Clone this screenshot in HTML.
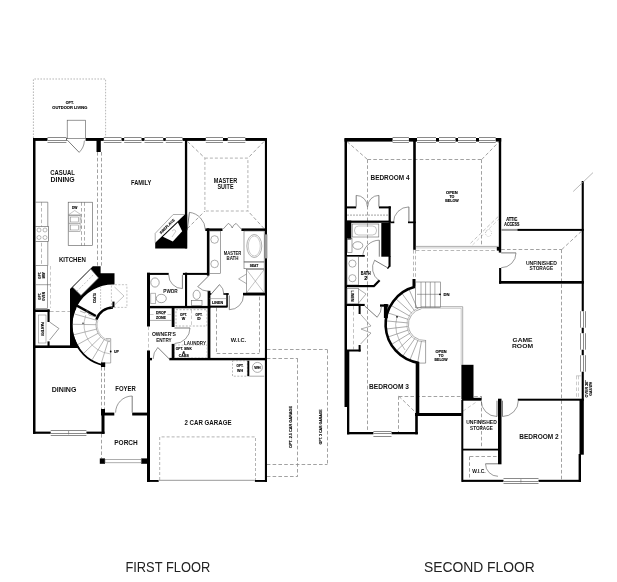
<!DOCTYPE html>
<html><head><meta charset="utf-8"><style>
html,body{margin:0;padding:0;background:#fff;}
svg{display:block;will-change:transform;}
text{font-family:"Liberation Sans",sans-serif;}
</style></head><body>
<svg width="617" height="582" viewBox="0 0 617 582">
<rect x="0" y="0" width="617" height="582" fill="#fff"/>
<line x1="97.50" y1="152.00" x2="97.50" y2="265.60" stroke="#8a8a8a" stroke-width="0.8" stroke-dasharray="3.6 2.2"/>
<line x1="101.50" y1="152.00" x2="101.50" y2="265.60" stroke="#8a8a8a" stroke-width="0.8" stroke-dasharray="3.6 2.2"/>
<line x1="187.50" y1="141.50" x2="204.90" y2="158.10" stroke="#8a8a8a" stroke-width="0.8" stroke-dasharray="3.6 2.2"/>
<line x1="264.00" y1="141.50" x2="247.90" y2="158.10" stroke="#8a8a8a" stroke-width="0.8" stroke-dasharray="3.6 2.2"/>
<line x1="187.50" y1="228.50" x2="204.90" y2="211.00" stroke="#8a8a8a" stroke-width="0.8" stroke-dasharray="3.6 2.2"/>
<line x1="264.00" y1="228.50" x2="247.90" y2="211.00" stroke="#8a8a8a" stroke-width="0.8" stroke-dasharray="3.6 2.2"/>
<line x1="41.50" y1="202.20" x2="41.50" y2="265.60" stroke="#888" stroke-width="0.6" stroke-dasharray="3.6 2.2"/>
<line x1="81.50" y1="202.20" x2="81.50" y2="245.50" stroke="#888" stroke-width="0.7" stroke-dasharray="3.6 2.2"/>
<line x1="84.50" y1="202.20" x2="84.50" y2="245.50" stroke="#888" stroke-width="0.7" stroke-dasharray="3.6 2.2"/>
<line x1="50.50" y1="266.00" x2="50.50" y2="308.00" stroke="#999" stroke-width="0.5" stroke-dasharray="3.6 2.2"/>
<line x1="50.00" y1="311.50" x2="70.00" y2="311.50" stroke="#888" stroke-width="0.6" stroke-dasharray="3.6 2.2"/>
<line x1="50.00" y1="346.50" x2="70.00" y2="346.50" stroke="#888" stroke-width="0.6" stroke-dasharray="3.6 2.2"/>
<line x1="101.50" y1="367.00" x2="101.50" y2="409.00" stroke="#8a8a8a" stroke-width="0.8" stroke-dasharray="3.6 2.2"/>
<line x1="104.50" y1="367.00" x2="104.50" y2="409.00" stroke="#8a8a8a" stroke-width="0.8" stroke-dasharray="3.6 2.2"/>
<line x1="101.50" y1="434.00" x2="101.50" y2="458.40" stroke="#8a8a8a" stroke-width="0.8" stroke-dasharray="3.6 2.2"/>
<line x1="148.50" y1="326.50" x2="148.50" y2="350.50" stroke="#aaa" stroke-width="0.7" stroke-dasharray="3.6 2.2"/>
<line x1="216.50" y1="307.70" x2="216.50" y2="353.40" stroke="#8a8a8a" stroke-width="0.8" stroke-dasharray="3.6 2.2"/>
<line x1="216.70" y1="353.50" x2="259.30" y2="353.50" stroke="#8a8a8a" stroke-width="0.8" stroke-dasharray="3.6 2.2"/>
<line x1="259.50" y1="296.70" x2="259.50" y2="353.40" stroke="#8a8a8a" stroke-width="0.8" stroke-dasharray="3.6 2.2"/>
<line x1="150.00" y1="314.50" x2="171.70" y2="314.50" stroke="#999" stroke-width="0.5" stroke-dasharray="3.6 2.2"/>
<line x1="191.50" y1="309.70" x2="191.50" y2="326.00" stroke="#999" stroke-width="0.5" stroke-dasharray="3.6 2.2"/>
<line x1="266.80" y1="349.50" x2="327.40" y2="349.50" stroke="#8a8a8a" stroke-width="0.8" stroke-dasharray="3.6 2.2"/>
<line x1="327.50" y1="349.70" x2="327.50" y2="464.40" stroke="#8a8a8a" stroke-width="0.8" stroke-dasharray="3.6 2.2"/>
<line x1="266.80" y1="464.50" x2="327.40" y2="464.50" stroke="#8a8a8a" stroke-width="0.8" stroke-dasharray="3.6 2.2"/>
<line x1="266.80" y1="358.50" x2="297.90" y2="358.50" stroke="#8a8a8a" stroke-width="0.8" stroke-dasharray="3.6 2.2"/>
<line x1="297.50" y1="358.80" x2="297.50" y2="476.10" stroke="#8a8a8a" stroke-width="0.8" stroke-dasharray="3.6 2.2"/>
<line x1="266.80" y1="476.50" x2="297.90" y2="476.50" stroke="#8a8a8a" stroke-width="0.8" stroke-dasharray="3.6 2.2"/>
<line x1="413.50" y1="250.00" x2="413.50" y2="279.00" stroke="#888" stroke-width="0.6" stroke-dasharray="3.6 2.2"/>
<line x1="415.50" y1="250.00" x2="415.50" y2="279.00" stroke="#888" stroke-width="0.6" stroke-dasharray="3.6 2.2"/>
<line x1="501.20" y1="249.50" x2="561.80" y2="249.50" stroke="#8a8a8a" stroke-width="0.8" stroke-dasharray="3.6 2.2"/>
<line x1="561.50" y1="249.50" x2="561.50" y2="479.80" stroke="#8a8a8a" stroke-width="0.8" stroke-dasharray="3.6 2.2"/>
<line x1="561.80" y1="249.50" x2="581.70" y2="231.00" stroke="#8a8a8a" stroke-width="0.8" stroke-dasharray="3.6 2.2"/>
<line x1="367.50" y1="159.50" x2="481.70" y2="159.50" stroke="#8a8a8a" stroke-width="0.8" stroke-dasharray="3.6 2.2"/>
<line x1="481.50" y1="159.50" x2="481.50" y2="246.00" stroke="#8a8a8a" stroke-width="0.8" stroke-dasharray="3.6 2.2"/>
<line x1="481.70" y1="159.50" x2="499.00" y2="141.80" stroke="#8a8a8a" stroke-width="0.8" stroke-dasharray="3.6 2.2"/>
<line x1="347.00" y1="141.60" x2="367.50" y2="159.50" stroke="#8a8a8a" stroke-width="0.8" stroke-dasharray="3.6 2.2"/>
<line x1="367.50" y1="159.50" x2="367.50" y2="432.00" stroke="#8a8a8a" stroke-width="0.8" stroke-dasharray="3.6 2.2"/>
<line x1="415.80" y1="250.50" x2="499.00" y2="250.50" stroke="#888" stroke-width="0.6" stroke-dasharray="3.6 2.2"/>
<line x1="470.50" y1="243.30" x2="498.30" y2="216.50" stroke="#999" stroke-width="0.6" stroke-dasharray="3.6 2.2"/>
<line x1="472.50" y1="245.00" x2="499.00" y2="219.00" stroke="#aaa" stroke-width="0.5" stroke-dasharray="3.6 2.2"/>
<line x1="353.50" y1="306.00" x2="353.50" y2="349.50" stroke="#999" stroke-width="0.6" stroke-dasharray="3.6 2.2"/>
<line x1="398.80" y1="396.50" x2="481.50" y2="396.50" stroke="#8a8a8a" stroke-width="0.8" stroke-dasharray="3.6 2.2"/>
<line x1="398.50" y1="396.20" x2="398.50" y2="432.00" stroke="#8a8a8a" stroke-width="0.8" stroke-dasharray="3.6 2.2"/>
<line x1="398.80" y1="396.20" x2="415.30" y2="412.10" stroke="#8a8a8a" stroke-width="0.8" stroke-dasharray="3.6 2.2"/>
<line x1="576.50" y1="375.80" x2="576.50" y2="399.00" stroke="#999" stroke-width="0.5" stroke-dasharray="3.6 2.2"/>
<line x1="578.50" y1="375.80" x2="578.50" y2="399.00" stroke="#999" stroke-width="0.5" stroke-dasharray="3.6 2.2"/>
<line x1="481.50" y1="396.20" x2="481.50" y2="447.40" stroke="#8a8a8a" stroke-width="0.8" stroke-dasharray="3.6 2.2"/>
<line x1="463.00" y1="411.10" x2="476.30" y2="402.00" stroke="#999" stroke-width="0.5" stroke-dasharray="3.6 2.2"/>
<line x1="469.50" y1="456.50" x2="469.50" y2="479.80" stroke="#8a8a8a" stroke-width="0.8" stroke-dasharray="3.6 2.2"/>
<line x1="469.80" y1="456.50" x2="497.60" y2="456.50" stroke="#8a8a8a" stroke-width="0.8" stroke-dasharray="3.6 2.2"/>
<path d="M70,348 L70,289 L92.8,266.2 L100.6,266.2 L100.6,273.2 L114.5,273.2 L114.5,284.53 A40.5,40.5 0 0 0 79.66,348 Z" fill="#000"/>
<polygon points="72.70,287.20 90.80,269.10 98.50,277.90 81.00,295.40" fill="#fff"/>
<path d="M72.7,287.2 L90.8,269.1 L98.5,277.9 L81,295.4 Z" fill="none" stroke="#666" stroke-width="0.6"/>
<line x1="76.85" y1="291.30" x2="94.65" y2="273.50" stroke="#888" stroke-width="0.5" stroke-dasharray="2 1.5"/>
<path d="M103.01,365.07 A41.30,41.30 0 0 1 75.57,307.55" fill="none" stroke="#000" stroke-width="1.8"/>
<line x1="76.90" y1="305.70" x2="95.90" y2="316.00" stroke="#000" stroke-width="2.5"/>
<path d="M96.36,319.59 A17.50,17.50 0 0 1 113.00,307.50" fill="none" stroke="#000" stroke-width="2.4"/>
<rect x="112.40" y="301.60" width="2.10" height="5.70" fill="#000"/>
<text x="94.90" y="299.36" font-size="3.8" text-anchor="middle" fill="#000" font-weight="bold" stroke="#000" stroke-width="0.12" textLength="10.00" lengthAdjust="spacingAndGlyphs" transform="rotate(-90 94.90 298.00)">COATS</text>
<line x1="100.60" y1="286.00" x2="100.60" y2="310.00" stroke="#999" stroke-width="0.5" stroke-dasharray="2 1"/>
<rect x="111.40" y="284.70" width="15.50" height="22.70" fill="none" stroke="#888" stroke-width="0.5" stroke-dasharray="2 1.5"/>
<path d="M114.5,287 L124,296 L114.5,305" fill="none" stroke="#888" stroke-width="0.5"/>
<path d="M110.05,341.74 A17.00,17.00 0 0 1 96.83,319.75" fill="none" stroke="#777" stroke-width="0.6"/>
<path d="M110.26,340.56 A15.80,15.80 0 0 1 97.97,320.12" fill="none" stroke="#999" stroke-width="0.5"/>
<line x1="108.03" y1="341.26" x2="101.19" y2="363.63" stroke="#777" stroke-width="0.55"/>
<line x1="104.24" y1="339.57" x2="92.19" y2="359.63" stroke="#777" stroke-width="0.55"/>
<line x1="100.77" y1="336.81" x2="83.94" y2="353.06" stroke="#777" stroke-width="0.55"/>
<line x1="98.13" y1="333.24" x2="77.67" y2="344.59" stroke="#777" stroke-width="0.55"/>
<line x1="96.50" y1="329.11" x2="73.80" y2="334.77" stroke="#777" stroke-width="0.55"/>
<line x1="96.00" y1="324.70" x2="72.61" y2="324.29" stroke="#777" stroke-width="0.55"/>
<line x1="96.66" y1="320.31" x2="74.17" y2="313.86" stroke="#777" stroke-width="0.55"/>
<path d="M109.97,353.84 A29.00,29.00 0 0 1 85.75,315.08" fill="none" stroke="#888" stroke-width="0.5"/>
<line x1="110.70" y1="338.60" x2="110.70" y2="363.00" stroke="#777" stroke-width="0.6"/>
<line x1="106.00" y1="338.60" x2="110.70" y2="338.60" stroke="#777" stroke-width="0.6"/>
<line x1="104.00" y1="363.00" x2="110.70" y2="363.00" stroke="#777" stroke-width="0.6"/>
<path d="M80,311 L85,313 L87,310 L89,315 L96,317" fill="none" stroke="#666" stroke-width="0.5"/>
<rect x="101.00" y="362.40" width="4.20" height="4.60" fill="#000"/>
<circle cx="110.7" cy="351.5" r="0.9" fill="#000"/>
<circle cx="83" cy="323.2" r="0.8" fill="#333"/>
<text x="116.50" y="352.86" font-size="3.8" text-anchor="middle" fill="#000" font-weight="bold" stroke="#000" stroke-width="0.12" textLength="5.00" lengthAdjust="spacingAndGlyphs">UP</text>
<path d="M33.4,138 L33.4,79 L105.6,79 L105.6,138" fill="none" stroke="#999" stroke-width="0.7" stroke-dasharray="1.6 1.4"/>
<text x="69.80" y="104.10" font-size="4.2" text-anchor="middle" fill="#000" font-weight="bold" stroke="#000" stroke-width="0.12" textLength="8.00" lengthAdjust="spacingAndGlyphs">OPT.</text>
<text x="69.80" y="109.00" font-size="4.2" text-anchor="middle" fill="#000" font-weight="bold" stroke="#000" stroke-width="0.12" textLength="35.00" lengthAdjust="spacingAndGlyphs">OUTDOOR LIVING</text>
<rect x="33.00" y="138.00" width="234.00" height="2.90" fill="#000"/>
<rect x="47.50" y="137.00" width="18.90" height="6.00" fill="#fff"/>
<line x1="47.50" y1="137.50" x2="66.40" y2="137.50" stroke="#8a8a8a" stroke-width="1"/>
<line x1="47.50" y1="140.50" x2="66.40" y2="140.50" stroke="#8a8a8a" stroke-width="1"/>
<line x1="47.50" y1="142.50" x2="66.40" y2="142.50" stroke="#8a8a8a" stroke-width="1"/>
<rect x="67.00" y="137.50" width="18.60" height="4.50" fill="#fff"/>
<rect x="67.20" y="120.20" width="18.40" height="18.50" fill="none" stroke="#555" stroke-width="0.6"/>
<line x1="67.20" y1="140.00" x2="79.15" y2="152.37" stroke="#444" stroke-width="0.7"/>
<path d="M79.15,152.37 A17.20,17.20 0 0 0 84.39,140.60" fill="none" stroke="#555" stroke-width="0.6"/>
<rect x="103.80" y="137.00" width="17.70" height="6.00" fill="#fff"/>
<line x1="103.80" y1="137.50" x2="121.50" y2="137.50" stroke="#8a8a8a" stroke-width="1"/>
<line x1="103.80" y1="140.50" x2="121.50" y2="140.50" stroke="#8a8a8a" stroke-width="1"/>
<line x1="103.80" y1="142.50" x2="121.50" y2="142.50" stroke="#8a8a8a" stroke-width="1"/>
<rect x="124.20" y="137.00" width="17.30" height="6.00" fill="#fff"/>
<line x1="124.20" y1="137.50" x2="141.50" y2="137.50" stroke="#8a8a8a" stroke-width="1"/>
<line x1="124.20" y1="140.50" x2="141.50" y2="140.50" stroke="#8a8a8a" stroke-width="1"/>
<line x1="124.20" y1="142.50" x2="141.50" y2="142.50" stroke="#8a8a8a" stroke-width="1"/>
<rect x="144.50" y="137.00" width="18.70" height="6.00" fill="#fff"/>
<line x1="144.50" y1="137.50" x2="163.20" y2="137.50" stroke="#8a8a8a" stroke-width="1"/>
<line x1="144.50" y1="140.50" x2="163.20" y2="140.50" stroke="#8a8a8a" stroke-width="1"/>
<line x1="144.50" y1="142.50" x2="163.20" y2="142.50" stroke="#8a8a8a" stroke-width="1"/>
<rect x="165.80" y="137.00" width="16.70" height="6.00" fill="#fff"/>
<line x1="165.80" y1="137.50" x2="182.50" y2="137.50" stroke="#8a8a8a" stroke-width="1"/>
<line x1="165.80" y1="140.50" x2="182.50" y2="140.50" stroke="#8a8a8a" stroke-width="1"/>
<line x1="165.80" y1="142.50" x2="182.50" y2="142.50" stroke="#8a8a8a" stroke-width="1"/>
<rect x="205.80" y="137.00" width="17.20" height="6.00" fill="#fff"/>
<line x1="205.80" y1="137.50" x2="223.00" y2="137.50" stroke="#8a8a8a" stroke-width="1"/>
<line x1="205.80" y1="140.50" x2="223.00" y2="140.50" stroke="#8a8a8a" stroke-width="1"/>
<line x1="205.80" y1="142.50" x2="223.00" y2="142.50" stroke="#8a8a8a" stroke-width="1"/>
<rect x="227.80" y="137.00" width="17.50" height="6.00" fill="#fff"/>
<line x1="227.80" y1="137.50" x2="245.30" y2="137.50" stroke="#8a8a8a" stroke-width="1"/>
<line x1="227.80" y1="140.50" x2="245.30" y2="140.50" stroke="#8a8a8a" stroke-width="1"/>
<line x1="227.80" y1="142.50" x2="245.30" y2="142.50" stroke="#8a8a8a" stroke-width="1"/>
<rect x="96.50" y="138.00" width="4.30" height="14.00" fill="#000"/>
<rect x="33.00" y="138.00" width="2.50" height="295.80" fill="#000"/>
<rect x="184.90" y="138.00" width="2.30" height="110.40" fill="#000"/>
<rect x="264.90" y="138.00" width="2.10" height="343.90" fill="#000"/>
<rect x="264.20" y="234.40" width="3.20" height="24.00" fill="#9a9a9a"/>
<rect x="204.90" y="158.10" width="43.00" height="52.90" fill="none" stroke="#999" stroke-width="0.75" stroke-dasharray="3 2"/>
<text x="141.20" y="185.42" font-size="7.6" text-anchor="middle" fill="#111" font-weight="bold" textLength="20.30" lengthAdjust="spacingAndGlyphs">FAMILY</text>
<text x="225.50" y="182.93" font-size="6.8" text-anchor="middle" fill="#111" font-weight="bold" textLength="23.50" lengthAdjust="spacingAndGlyphs">MASTER</text>
<text x="225.50" y="188.63" font-size="6.8" text-anchor="middle" fill="#111" font-weight="bold" textLength="16.00" lengthAdjust="spacingAndGlyphs">SUITE</text>
<text x="62.60" y="174.93" font-size="6.8" text-anchor="middle" fill="#111" font-weight="bold" textLength="24.70" lengthAdjust="spacingAndGlyphs">CASUAL</text>
<text x="62.60" y="181.83" font-size="6.8" text-anchor="middle" fill="#111" font-weight="bold" textLength="24.20" lengthAdjust="spacingAndGlyphs">DINING</text>
<polygon points="155.20,242.80 184.80,214.50 187.10,214.50 187.10,248.40 155.20,248.40" fill="#000"/>
<polygon points="162.90,236.80 177.90,222.60 182.20,231.20 172.80,241.50" fill="#fff"/>
<path d="M155.2,242.8 L155.2,233.4 L173.2,214.5 L184.8,214.5" fill="none" stroke="#777" stroke-width="0.6"/>
<text x="167.20" y="227.59" font-size="3.6" text-anchor="middle" fill="#000" font-weight="bold" stroke="#000" stroke-width="0.12" textLength="19.70" lengthAdjust="spacingAndGlyphs" transform="rotate(-45 167.20 226.30)">FIREPLACE</text>
<path d="M172,231 q2,-3 4,0 q-2,3 -4,6" fill="none" stroke="#999" stroke-width="0.5"/>
<line x1="35.50" y1="202.20" x2="47.80" y2="202.20" stroke="#555" stroke-width="0.6"/>
<line x1="47.80" y1="202.20" x2="47.80" y2="265.60" stroke="#555" stroke-width="0.6"/>
<rect x="35.50" y="226.50" width="13.10" height="14.80" fill="#fff" stroke="#555" stroke-width="0.6"/>
<circle cx="39" cy="230" r="2" fill="none" stroke="#777" stroke-width="0.5"/>
<circle cx="45" cy="230" r="2" fill="none" stroke="#777" stroke-width="0.5"/>
<circle cx="39" cy="237.5" r="2" fill="none" stroke="#777" stroke-width="0.5"/>
<circle cx="45" cy="237.5" r="2" fill="none" stroke="#777" stroke-width="0.5"/>
<rect x="68.20" y="202.20" width="24.30" height="43.30" fill="none" stroke="#555" stroke-width="0.6"/>
<line x1="68.20" y1="215.00" x2="81.40" y2="215.00" stroke="#666" stroke-width="0.6"/>
<path d="M68.5,214.8 L74.7,210.5 L81.2,214.8" fill="none" stroke="#888" stroke-width="0.5"/>
<text x="74.70" y="209.43" font-size="4" text-anchor="middle" fill="#000" font-weight="bold" stroke="#000" stroke-width="0.12" textLength="5.50" lengthAdjust="spacingAndGlyphs">DW</text>
<rect x="68.90" y="215.40" width="11.20" height="16.10" fill="none" stroke="#888" stroke-width="0.6"/>
<line x1="68.90" y1="223.40" x2="80.10" y2="223.40" stroke="#777" stroke-width="0.6"/>
<rect x="70.70" y="217.00" width="7.80" height="5.00" fill="none" stroke="#777" stroke-width="0.5"/>
<rect x="70.70" y="225.00" width="7.80" height="5.00" fill="none" stroke="#777" stroke-width="0.5"/>
<line x1="79.90" y1="219.00" x2="82.00" y2="219.00" stroke="#777" stroke-width="0.5"/>
<line x1="79.90" y1="227.00" x2="82.00" y2="227.00" stroke="#777" stroke-width="0.5"/>
<text x="72.40" y="261.83" font-size="6.8" text-anchor="middle" fill="#111" font-weight="bold" textLength="27.00" lengthAdjust="spacingAndGlyphs">KITCHEN</text>
<rect x="35.50" y="265.60" width="12.00" height="42.90" fill="none" stroke="#666" stroke-width="0.6"/>
<line x1="35.50" y1="284.70" x2="50.60" y2="284.70" stroke="#666" stroke-width="0.6"/>
<text x="39.80" y="276.86" font-size="3.8" text-anchor="middle" fill="#000" font-weight="bold" stroke="#000" stroke-width="0.12" textLength="7.00" lengthAdjust="spacingAndGlyphs" transform="rotate(-90 39.80 275.50)">OPT.</text>
<text x="44.00" y="276.86" font-size="3.8" text-anchor="middle" fill="#000" font-weight="bold" stroke="#000" stroke-width="0.12" textLength="6.00" lengthAdjust="spacingAndGlyphs" transform="rotate(-90 44.00 275.50)">MW</text>
<text x="39.80" y="297.86" font-size="3.8" text-anchor="middle" fill="#000" font-weight="bold" stroke="#000" stroke-width="0.12" textLength="7.00" lengthAdjust="spacingAndGlyphs" transform="rotate(-90 39.80 296.50)">OPT.</text>
<text x="44.00" y="297.86" font-size="3.8" text-anchor="middle" fill="#000" font-weight="bold" stroke="#000" stroke-width="0.12" textLength="9.00" lengthAdjust="spacingAndGlyphs" transform="rotate(-90 44.00 296.50)">OVEN</text>
<rect x="33.00" y="309.50" width="16.60" height="2.50" fill="#000"/>
<rect x="47.50" y="309.50" width="2.10" height="12.50" fill="#000"/>
<rect x="47.50" y="341.40" width="2.10" height="6.60" fill="#000"/>
<rect x="33.00" y="345.40" width="37.00" height="2.60" fill="#000"/>
<path d="M49.6,322 L58.9,328.5 L49.6,340" fill="none" stroke="#555" stroke-width="0.6"/>
<rect x="38.50" y="315.00" width="7.50" height="28.00" fill="none" stroke="#777" stroke-width="0.5"/>
<text x="42.30" y="330.22" font-size="3.4" text-anchor="middle" fill="#000" font-weight="bold" stroke="#000" stroke-width="0.12" textLength="14.00" lengthAdjust="spacingAndGlyphs" transform="rotate(90 42.30 329.00)">PANTRY</text>
<rect x="101.00" y="409.00" width="4.00" height="4.00" fill="#000"/>
<rect x="101.50" y="413.00" width="3.00" height="20.80" fill="#000"/>
<rect x="33.00" y="431.60" width="71.50" height="2.20" fill="#000"/>
<rect x="50.70" y="430.00" width="35.70" height="6.00" fill="#fff"/>
<line x1="50.70" y1="430.50" x2="86.40" y2="430.50" stroke="#8a8a8a" stroke-width="1"/>
<line x1="50.70" y1="433.50" x2="86.40" y2="433.50" stroke="#8a8a8a" stroke-width="1"/>
<line x1="50.70" y1="435.50" x2="86.40" y2="435.50" stroke="#8a8a8a" stroke-width="1"/>
<line x1="68.60" y1="431.00" x2="68.60" y2="434.40" stroke="#666" stroke-width="0.6"/>
<rect x="101.00" y="412.60" width="13.30" height="2.90" fill="#000"/>
<rect x="132.20" y="412.60" width="17.80" height="2.90" fill="#000"/>
<line x1="132.20" y1="412.60" x2="132.20" y2="396.00" stroke="#444" stroke-width="0.7"/>
<path d="M132.20,396.00 A16.60,16.60 0 0 0 115.60,412.60" fill="none" stroke="#555" stroke-width="0.6"/>
<rect x="99.80" y="458.40" width="5.20" height="5.40" fill="#000"/>
<rect x="141.20" y="458.40" width="7.10" height="5.40" fill="#000"/>
<rect x="105.00" y="459.60" width="36.20" height="3.20" fill="none" stroke="#777" stroke-width="0.6"/>
<text x="64.10" y="391.53" font-size="6.8" text-anchor="middle" fill="#111" font-weight="bold" textLength="24.60" lengthAdjust="spacingAndGlyphs">DINING</text>
<text x="125.50" y="390.93" font-size="6.8" text-anchor="middle" fill="#111" font-weight="bold" textLength="20.50" lengthAdjust="spacingAndGlyphs">FOYER</text>
<text x="126.00" y="445.13" font-size="6.8" text-anchor="middle" fill="#111" font-weight="bold" textLength="23.50" lengthAdjust="spacingAndGlyphs">PORCH</text>
<rect x="147.00" y="272.70" width="3.00" height="53.80" fill="#000"/>
<rect x="147.00" y="350.50" width="3.00" height="131.40" fill="#000"/>
<rect x="147.00" y="272.90" width="21.70" height="2.00" fill="#000"/>
<rect x="182.90" y="272.90" width="26.40" height="2.00" fill="#000"/>
<line x1="182.40" y1="274.90" x2="182.40" y2="288.60" stroke="#444" stroke-width="0.7"/>
<path d="M182.40,288.60 A13.70,13.70 0 0 1 168.70,274.90" fill="none" stroke="#555" stroke-width="0.6"/>
<rect x="185.00" y="272.70" width="2.10" height="34.40" fill="#000"/>
<rect x="147.00" y="305.90" width="63.40" height="2.40" fill="#000"/>
<ellipse cx="155" cy="282.5" rx="4.2" ry="4.6" fill="none" stroke="#666" stroke-width="0.6"/>
<ellipse cx="161.3" cy="298.5" rx="5" ry="4.2" fill="none" stroke="#666" stroke-width="0.6"/>
<rect x="150.80" y="293.20" width="4.70" height="10.50" fill="none" stroke="#888" stroke-width="0.6"/>
<text x="170.50" y="292.90" font-size="5.6" text-anchor="middle" fill="#111" font-weight="bold" textLength="14.30" lengthAdjust="spacingAndGlyphs">PWDR</text>
<ellipse cx="196.7" cy="294.8" rx="3.6" ry="4.6" fill="none" stroke="#666" stroke-width="0.6"/>
<rect x="191.50" y="300.50" width="10.50" height="5.00" fill="none" stroke="#666" stroke-width="0.6"/>
<rect x="206.90" y="228.40" width="2.40" height="47.30" fill="#000"/>
<rect x="205.30" y="228.40" width="17.20" height="2.60" fill="#000"/>
<rect x="241.40" y="228.40" width="25.40" height="2.60" fill="#000"/>
<path d="M223.2,229 L228.3,223.4 Q231.5,225 232.2,228 M241.2,229 L236.1,223.4 Q232.9,225 232.2,228" fill="none" stroke="#555" stroke-width="0.6"/>
<line x1="187.20" y1="230.40" x2="189.42" y2="212.34" stroke="#444" stroke-width="0.7"/>
<path d="M189.42,212.34 A18.20,18.20 0 0 1 205.39,229.76" fill="none" stroke="#555" stroke-width="0.6"/>
<rect x="209.30" y="231.00" width="11.10" height="42.30" fill="none" stroke="#666" stroke-width="0.6"/>
<circle cx="214.6" cy="239.5" r="3.8" fill="none" stroke="#777" stroke-width="0.6"/>
<circle cx="214.6" cy="263.9" r="3.8" fill="none" stroke="#777" stroke-width="0.6"/>
<text x="232.50" y="255.23" font-size="5.4" text-anchor="middle" fill="#111" font-weight="bold" textLength="17.50" lengthAdjust="spacingAndGlyphs">MASTER</text>
<text x="232.50" y="260.33" font-size="5.4" text-anchor="middle" fill="#111" font-weight="bold" textLength="12.00" lengthAdjust="spacingAndGlyphs">BATH</text>
<rect x="244.00" y="231.00" width="20.20" height="30.90" fill="none" stroke="#666" stroke-width="0.6"/>
<ellipse cx="254.3" cy="246" rx="7.5" ry="11.5" fill="none" stroke="#777" stroke-width="0.6"/>
<ellipse cx="254.3" cy="246" rx="6" ry="10" fill="none" stroke="#999" stroke-width="0.5"/>
<rect x="244.00" y="262.00" width="20.20" height="6.70" fill="none" stroke="#666" stroke-width="0.6"/>
<text x="254.00" y="266.69" font-size="3.6" text-anchor="middle" fill="#000" font-weight="bold" stroke="#000" stroke-width="0.12" textLength="8.50" lengthAdjust="spacingAndGlyphs">SEAT</text>
<rect x="246.50" y="269.60" width="17.70" height="23.20" fill="none" stroke="#666" stroke-width="0.6"/>
<line x1="246.50" y1="269.60" x2="264.20" y2="292.80" stroke="#888" stroke-width="0.5"/>
<line x1="264.20" y1="269.60" x2="246.50" y2="292.80" stroke="#888" stroke-width="0.5"/>
<path d="M246.5,274 L238.6,278.9 L246.5,283.7" fill="none" stroke="#777" stroke-width="0.6"/>
<rect x="243.00" y="292.80" width="23.80" height="2.70" fill="#000"/>
<rect x="207.60" y="290.80" width="2.80" height="67.80" fill="#000"/>
<line x1="208.80" y1="275.70" x2="197.77" y2="286.73" stroke="#444" stroke-width="0.7"/>
<path d="M197.77,286.73 A15.60,15.60 0 0 0 208.80,291.30" fill="none" stroke="#555" stroke-width="0.6"/>
<rect x="209.30" y="293.20" width="2.00" height="1.60" fill="#000"/>
<rect x="223.40" y="293.20" width="5.40" height="1.60" fill="#000"/>
<rect x="226.30" y="293.20" width="1.50" height="13.60" fill="#000"/>
<line x1="211.30" y1="294.00" x2="219.50" y2="284.57" stroke="#444" stroke-width="0.7"/>
<path d="M219.50,284.57 A12.50,12.50 0 0 1 223.80,294.00" fill="none" stroke="#555" stroke-width="0.6"/>
<line x1="209.30" y1="298.60" x2="226.30" y2="298.60" stroke="#777" stroke-width="0.5"/>
<text x="217.60" y="303.86" font-size="3.8" text-anchor="middle" fill="#000" font-weight="bold" stroke="#000" stroke-width="0.12" textLength="11.20" lengthAdjust="spacingAndGlyphs">LINEN</text>
<rect x="209.30" y="305.60" width="18.20" height="2.10" fill="#000"/>
<line x1="229.30" y1="295.50" x2="229.30" y2="309.70" stroke="#444" stroke-width="0.7"/>
<path d="M229.30,309.70 A14.20,14.20 0 0 0 243.50,295.50" fill="none" stroke="#555" stroke-width="0.6"/>
<text x="238.50" y="342.25" font-size="6" text-anchor="middle" fill="#111" font-weight="bold" textLength="15.50" lengthAdjust="spacingAndGlyphs">W.I.C.</text>
<rect x="171.70" y="308.00" width="2.80" height="19.00" fill="#000"/>
<rect x="171.70" y="343.90" width="2.80" height="15.10" fill="#000"/>
<line x1="150.00" y1="320.40" x2="171.70" y2="320.40" stroke="#777" stroke-width="0.6"/>
<text x="161.00" y="314.36" font-size="3.8" text-anchor="middle" fill="#000" font-weight="bold" stroke="#000" stroke-width="0.12" textLength="10.00" lengthAdjust="spacingAndGlyphs">DROP</text>
<text x="161.00" y="318.86" font-size="3.8" text-anchor="middle" fill="#000" font-weight="bold" stroke="#000" stroke-width="0.12" textLength="10.00" lengthAdjust="spacingAndGlyphs">ZONE</text>
<rect x="176.00" y="309.70" width="31.00" height="16.30" fill="none" stroke="#888" stroke-width="0.6" stroke-dasharray="2 1.5"/>
<text x="183.50" y="315.79" font-size="3.6" text-anchor="middle" fill="#000" font-weight="bold" stroke="#000" stroke-width="0.12" textLength="7.00" lengthAdjust="spacingAndGlyphs">OPT.</text>
<text x="183.50" y="320.49" font-size="3.6" text-anchor="middle" fill="#000" font-weight="bold" stroke="#000" stroke-width="0.12" textLength="3.50" lengthAdjust="spacingAndGlyphs">W</text>
<text x="199.00" y="315.79" font-size="3.6" text-anchor="middle" fill="#000" font-weight="bold" stroke="#000" stroke-width="0.12" textLength="7.00" lengthAdjust="spacingAndGlyphs">OPT.</text>
<text x="199.00" y="320.49" font-size="3.6" text-anchor="middle" fill="#000" font-weight="bold" stroke="#000" stroke-width="0.12" textLength="3.50" lengthAdjust="spacingAndGlyphs">D</text>
<line x1="174.50" y1="328.00" x2="190.00" y2="328.00" stroke="#444" stroke-width="0.7"/>
<path d="M190.00,328.00 A15.50,15.50 0 0 1 174.50,343.50" fill="none" stroke="#555" stroke-width="0.6"/>
<text x="195.00" y="345.20" font-size="5.6" text-anchor="middle" fill="#111" font-weight="bold" textLength="22.00" lengthAdjust="spacingAndGlyphs">LAUNDRY</text>
<rect x="174.50" y="345.00" width="32.50" height="13.00" fill="none" stroke="#999" stroke-width="0.5" stroke-dasharray="2 1.5"/>
<text x="183.80" y="349.66" font-size="3.8" text-anchor="middle" fill="#000" font-weight="bold" stroke="#000" stroke-width="0.12" textLength="16.00" lengthAdjust="spacingAndGlyphs">OPT. SINK</text>
<text x="183.80" y="353.56" font-size="3.8" text-anchor="middle" fill="#000" font-weight="bold" stroke="#000" stroke-width="0.12" textLength="3.00" lengthAdjust="spacingAndGlyphs">&amp;</text>
<text x="183.80" y="357.36" font-size="3.8" text-anchor="middle" fill="#000" font-weight="bold" stroke="#000" stroke-width="0.12" textLength="10.00" lengthAdjust="spacingAndGlyphs">CABS</text>
<text x="163.90" y="336.38" font-size="5.8" text-anchor="middle" fill="#111" font-weight="bold" textLength="24.00" lengthAdjust="spacingAndGlyphs">OWNER'S</text>
<text x="163.90" y="341.78" font-size="5.8" text-anchor="middle" fill="#111" font-weight="bold" textLength="15.50" lengthAdjust="spacingAndGlyphs">ENTRY</text>
<rect x="147.00" y="357.90" width="5.00" height="2.40" fill="#000"/>
<rect x="169.30" y="357.90" width="97.50" height="2.40" fill="#000"/>
<line x1="169.30" y1="359.00" x2="157.84" y2="347.54" stroke="#444" stroke-width="0.7"/>
<path d="M157.84,347.54 A16.20,16.20 0 0 0 153.10,359.00" fill="none" stroke="#555" stroke-width="0.6"/>
<rect x="232.50" y="360.70" width="14.90" height="15.50" fill="none" stroke="#888" stroke-width="0.6" stroke-dasharray="2 1.5"/>
<text x="240.00" y="366.79" font-size="3.6" text-anchor="middle" fill="#000" font-weight="bold" stroke="#000" stroke-width="0.12" textLength="7.00" lengthAdjust="spacingAndGlyphs">OPT.</text>
<text x="240.00" y="371.79" font-size="3.6" text-anchor="middle" fill="#000" font-weight="bold" stroke="#000" stroke-width="0.12" textLength="6.00" lengthAdjust="spacingAndGlyphs">WH</text>
<rect x="247.40" y="360.70" width="1.90" height="15.50" fill="#000"/>
<line x1="249.30" y1="376.20" x2="264.20" y2="376.20" stroke="#777" stroke-width="0.6"/>
<circle cx="257.4" cy="367.4" r="5" fill="none" stroke="#777" stroke-width="0.6"/>
<text x="257.40" y="368.83" font-size="4" text-anchor="middle" fill="#000" font-weight="bold" stroke="#000" stroke-width="0.12" textLength="6.50" lengthAdjust="spacingAndGlyphs">WH</text>
<text x="208.00" y="425.13" font-size="6.8" text-anchor="middle" fill="#111" font-weight="bold" textLength="47.00" lengthAdjust="spacingAndGlyphs">2 CAR GARAGE</text>
<path d="M159.7,480 L159.7,436.9 L255.5,436.9 L255.5,480" fill="none" stroke="#999" stroke-width="0.75" stroke-dasharray="3 2"/>
<rect x="147.00" y="480.00" width="11.70" height="1.90" fill="#000"/>
<rect x="254.90" y="480.00" width="12.10" height="1.90" fill="#000"/>
<line x1="158.70" y1="480.30" x2="254.90" y2="480.30" stroke="#999" stroke-width="1"/>
<text x="290.70" y="428.40" font-size="4.2" text-anchor="middle" fill="#000" font-weight="bold" stroke="#000" stroke-width="0.12" textLength="42.00" lengthAdjust="spacingAndGlyphs" transform="rotate(-90 290.70 426.90)">OPT. 2.5 CAR GARAGE</text>
<text x="320.50" y="428.40" font-size="4.2" text-anchor="middle" fill="#000" font-weight="bold" stroke="#000" stroke-width="0.12" textLength="35.00" lengthAdjust="spacingAndGlyphs" transform="rotate(-90 320.50 426.90)">OPT. 3 CAR GARAGE</text>
<text x="167.80" y="572.24" font-size="15.2" text-anchor="middle" fill="#222" font-weight="normal" textLength="84.80" lengthAdjust="spacingAndGlyphs">FIRST FLOOR</text>
<text x="479.40" y="572.24" font-size="15.2" text-anchor="middle" fill="#222" font-weight="normal" textLength="111.00" lengthAdjust="spacingAndGlyphs">SECOND FLOOR</text>
<line x1="421.48" y1="341.04" x2="417.71" y2="362.42" stroke="#666" stroke-width="0.55"/>
<line x1="418.05" y1="340.05" x2="409.85" y2="360.15" stroke="#666" stroke-width="0.55"/>
<line x1="414.91" y1="338.36" x2="402.65" y2="356.27" stroke="#666" stroke-width="0.55"/>
<line x1="412.19" y1="336.04" x2="396.43" y2="350.95" stroke="#666" stroke-width="0.55"/>
<line x1="410.03" y1="333.20" x2="391.47" y2="344.44" stroke="#666" stroke-width="0.55"/>
<line x1="408.52" y1="329.97" x2="388.00" y2="337.03" stroke="#666" stroke-width="0.55"/>
<line x1="407.72" y1="326.49" x2="386.17" y2="329.06" stroke="#666" stroke-width="0.55"/>
<line x1="407.67" y1="322.92" x2="386.07" y2="320.88" stroke="#666" stroke-width="0.55"/>
<line x1="408.39" y1="319.42" x2="387.70" y2="312.86" stroke="#666" stroke-width="0.55"/>
<line x1="409.82" y1="316.15" x2="390.99" y2="305.37" stroke="#666" stroke-width="0.55"/>
<line x1="411.92" y1="313.26" x2="395.79" y2="298.74" stroke="#666" stroke-width="0.55"/>
<line x1="414.57" y1="310.87" x2="401.88" y2="293.27" stroke="#666" stroke-width="0.55"/>
<line x1="417.67" y1="309.11" x2="408.99" y2="289.22" stroke="#666" stroke-width="0.55"/>
<path d="M419.00,362.92 A38.80,38.80 0 0 1 415.01,286.85" fill="none" stroke="#000" stroke-width="2.6"/>
<path d="M425.52,340.46 A16.00,16.00 0 0 1 421.35,308.79" fill="none" stroke="#777" stroke-width="0.6"/>
<path d="M425.62,341.96 A17.50,17.50 0 0 1 421.06,307.32" fill="none" stroke="#888" stroke-width="0.5"/>
<rect x="383.90" y="304.00" width="3.80" height="14.00" fill="#000"/>
<rect x="380.00" y="304.40" width="8.50" height="2.30" fill="#000"/>
<rect x="412.50" y="279.00" width="3.00" height="7.50" fill="#000"/>
<rect x="415.70" y="362.00" width="3.60" height="54.00" fill="#000"/>
<rect x="415.20" y="413.00" width="2.60" height="21.30" fill="#000"/>
<rect x="415.60" y="282.00" width="24.70" height="25.50" fill="none" stroke="#666" stroke-width="0.6"/>
<line x1="421.00" y1="282.00" x2="421.00" y2="307.50" stroke="#666" stroke-width="0.55"/>
<line x1="425.60" y1="282.00" x2="425.60" y2="307.50" stroke="#666" stroke-width="0.55"/>
<line x1="430.30" y1="282.00" x2="430.30" y2="307.50" stroke="#666" stroke-width="0.55"/>
<line x1="434.90" y1="282.00" x2="434.90" y2="307.50" stroke="#666" stroke-width="0.55"/>
<line x1="417.00" y1="294.30" x2="440.00" y2="294.30" stroke="#555" stroke-width="0.5"/>
<circle cx="440" cy="294.3" r="0.9" fill="#000"/>
<text x="446.50" y="295.93" font-size="4" text-anchor="middle" fill="#000" font-weight="bold" stroke="#000" stroke-width="0.12" textLength="6.00" lengthAdjust="spacingAndGlyphs">DN</text>
<line x1="425.60" y1="340.00" x2="425.60" y2="363.10" stroke="#666" stroke-width="0.6"/>
<line x1="418.70" y1="363.10" x2="425.60" y2="363.10" stroke="#666" stroke-width="0.6"/>
<line x1="421.00" y1="306.70" x2="462.70" y2="306.70" stroke="#777" stroke-width="0.6"/>
<line x1="421.00" y1="308.30" x2="461.20" y2="308.30" stroke="#999" stroke-width="0.5"/>
<line x1="462.70" y1="306.70" x2="462.70" y2="364.80" stroke="#777" stroke-width="0.6"/>
<line x1="461.20" y1="308.30" x2="461.20" y2="364.80" stroke="#999" stroke-width="0.5"/>
<circle cx="397" cy="316.8" r="0.9" fill="#000"/>
<path d="M397,316.8 Q392,332 405,350" fill="none" stroke="#777" stroke-width="0.5"/>
<text x="441.10" y="353.36" font-size="3.8" text-anchor="middle" fill="#000" font-weight="bold" stroke="#000" stroke-width="0.12" textLength="11.00" lengthAdjust="spacingAndGlyphs">OPEN</text>
<text x="441.10" y="357.16" font-size="3.8" text-anchor="middle" fill="#000" font-weight="bold" stroke="#000" stroke-width="0.12" textLength="5.00" lengthAdjust="spacingAndGlyphs">TO</text>
<text x="441.10" y="361.16" font-size="3.8" text-anchor="middle" fill="#000" font-weight="bold" stroke="#000" stroke-width="0.12" textLength="13.00" lengthAdjust="spacingAndGlyphs">BELOW</text>
<rect x="461.40" y="364.80" width="12.10" height="34.70" fill="#000"/>
<rect x="344.50" y="138.00" width="71.30" height="3.60" fill="#000"/>
<rect x="392.60" y="137.00" width="16.30" height="6.00" fill="#fff"/>
<line x1="392.60" y1="137.50" x2="408.90" y2="137.50" stroke="#8a8a8a" stroke-width="1"/>
<line x1="392.60" y1="140.50" x2="408.90" y2="140.50" stroke="#8a8a8a" stroke-width="1"/>
<line x1="392.60" y1="142.50" x2="408.90" y2="142.50" stroke="#8a8a8a" stroke-width="1"/>
<rect x="413.20" y="138.00" width="88.00" height="3.60" fill="#000"/>
<rect x="417.00" y="137.00" width="19.00" height="6.00" fill="#fff"/>
<line x1="417.00" y1="137.50" x2="436.00" y2="137.50" stroke="#8a8a8a" stroke-width="1"/>
<line x1="417.00" y1="140.50" x2="436.00" y2="140.50" stroke="#8a8a8a" stroke-width="1"/>
<line x1="417.00" y1="142.50" x2="436.00" y2="142.50" stroke="#8a8a8a" stroke-width="1"/>
<rect x="439.00" y="137.00" width="16.50" height="6.00" fill="#fff"/>
<line x1="439.00" y1="137.50" x2="455.50" y2="137.50" stroke="#8a8a8a" stroke-width="1"/>
<line x1="439.00" y1="140.50" x2="455.50" y2="140.50" stroke="#8a8a8a" stroke-width="1"/>
<line x1="439.00" y1="142.50" x2="455.50" y2="142.50" stroke="#8a8a8a" stroke-width="1"/>
<rect x="458.00" y="137.00" width="18.00" height="6.00" fill="#fff"/>
<line x1="458.00" y1="137.50" x2="476.00" y2="137.50" stroke="#8a8a8a" stroke-width="1"/>
<line x1="458.00" y1="140.50" x2="476.00" y2="140.50" stroke="#8a8a8a" stroke-width="1"/>
<line x1="458.00" y1="142.50" x2="476.00" y2="142.50" stroke="#8a8a8a" stroke-width="1"/>
<rect x="479.00" y="137.00" width="16.70" height="6.00" fill="#fff"/>
<line x1="479.00" y1="137.50" x2="495.70" y2="137.50" stroke="#8a8a8a" stroke-width="1"/>
<line x1="479.00" y1="140.50" x2="495.70" y2="140.50" stroke="#8a8a8a" stroke-width="1"/>
<line x1="479.00" y1="142.50" x2="495.70" y2="142.50" stroke="#8a8a8a" stroke-width="1"/>
<rect x="344.50" y="138.50" width="2.50" height="268.50" fill="#000"/>
<rect x="347.00" y="351.00" width="2.30" height="83.40" fill="#000"/>
<rect x="413.20" y="138.50" width="2.60" height="111.30" fill="#000"/>
<rect x="498.80" y="138.30" width="2.40" height="114.30" fill="#000"/>
<rect x="499.10" y="268.00" width="2.10" height="15.70" fill="#000"/>
<line x1="501.20" y1="229.90" x2="517.40" y2="229.90" stroke="#999" stroke-width="2"/>
<rect x="517.40" y="228.90" width="66.40" height="2.00" fill="#000"/>
<rect x="581.70" y="181.00" width="2.10" height="219.00" fill="#000"/>
<rect x="579.50" y="400.00" width="4.30" height="54.70" fill="#000"/>
<rect x="578.60" y="454.00" width="2.40" height="27.90" fill="#000"/>
<rect x="580.00" y="311.20" width="6.00" height="16.50" fill="#fff"/>
<line x1="580.50" y1="311.20" x2="580.50" y2="327.70" stroke="#8a8a8a" stroke-width="1"/>
<line x1="583.50" y1="311.20" x2="583.50" y2="327.70" stroke="#8a8a8a" stroke-width="1"/>
<line x1="585.50" y1="311.20" x2="585.50" y2="327.70" stroke="#8a8a8a" stroke-width="1"/>
<rect x="580.00" y="333.20" width="6.00" height="16.50" fill="#fff"/>
<line x1="580.50" y1="333.20" x2="580.50" y2="349.70" stroke="#8a8a8a" stroke-width="1"/>
<line x1="583.50" y1="333.20" x2="583.50" y2="349.70" stroke="#8a8a8a" stroke-width="1"/>
<line x1="585.50" y1="333.20" x2="585.50" y2="349.70" stroke="#8a8a8a" stroke-width="1"/>
<rect x="580.00" y="355.20" width="6.00" height="16.50" fill="#fff"/>
<line x1="580.50" y1="355.20" x2="580.50" y2="371.70" stroke="#8a8a8a" stroke-width="1"/>
<line x1="583.50" y1="355.20" x2="583.50" y2="371.70" stroke="#8a8a8a" stroke-width="1"/>
<line x1="585.50" y1="355.20" x2="585.50" y2="371.70" stroke="#8a8a8a" stroke-width="1"/>
<rect x="499.10" y="281.00" width="84.70" height="2.70" fill="#000"/>
<line x1="573.20" y1="191.50" x2="593.00" y2="172.60" stroke="#999" stroke-width="0.7"/>
<text x="511.80" y="221.45" font-size="4.6" text-anchor="middle" fill="#000" font-weight="bold" stroke="#000" stroke-width="0.12" textLength="11.30" lengthAdjust="spacingAndGlyphs">ATTIC</text>
<text x="511.80" y="226.05" font-size="4.6" text-anchor="middle" fill="#000" font-weight="bold" stroke="#000" stroke-width="0.12" textLength="15.00" lengthAdjust="spacingAndGlyphs">ACCESS</text>
<line x1="501.20" y1="252.90" x2="516.00" y2="252.90" stroke="#444" stroke-width="0.7"/>
<path d="M516.00,252.90 A14.80,14.80 0 0 1 501.20,267.70" fill="none" stroke="#555" stroke-width="0.6"/>
<text x="541.40" y="265.30" font-size="5.6" text-anchor="middle" fill="#111" font-weight="bold" textLength="31.00" lengthAdjust="spacingAndGlyphs">UNFINISHED</text>
<text x="541.40" y="270.20" font-size="5.6" text-anchor="middle" fill="#111" font-weight="bold" textLength="23.60" lengthAdjust="spacingAndGlyphs">STORAGE</text>
<line x1="415.80" y1="246.40" x2="499.00" y2="246.40" stroke="#777" stroke-width="0.6"/>
<line x1="415.80" y1="247.90" x2="499.00" y2="247.90" stroke="#999" stroke-width="0.5"/>
<rect x="496.80" y="247.00" width="3.80" height="3.50" fill="#000"/>
<ellipse cx="488.5" cy="233" rx="3" ry="3.5" fill="none" stroke="#999" stroke-width="0.5" stroke-dasharray="1 1"/>
<text x="451.90" y="193.80" font-size="3.9" text-anchor="middle" fill="#000" font-weight="bold" stroke="#000" stroke-width="0.12" textLength="11.60" lengthAdjust="spacingAndGlyphs">OPEN</text>
<text x="451.90" y="197.90" font-size="3.9" text-anchor="middle" fill="#000" font-weight="bold" stroke="#000" stroke-width="0.12" textLength="5.00" lengthAdjust="spacingAndGlyphs">TO</text>
<text x="451.90" y="201.90" font-size="3.9" text-anchor="middle" fill="#000" font-weight="bold" stroke="#000" stroke-width="0.12" textLength="13.40" lengthAdjust="spacingAndGlyphs">BELOW</text>
<text x="390.00" y="179.83" font-size="6.8" text-anchor="middle" fill="#111" font-weight="bold" textLength="39.00" lengthAdjust="spacingAndGlyphs">BEDROOM 4</text>
<line x1="356.20" y1="206.60" x2="356.20" y2="195.40" stroke="#444" stroke-width="0.7"/>
<path d="M356.20,195.40 A11.20,11.20 0 0 1 367.40,206.60" fill="none" stroke="#555" stroke-width="0.6"/>
<line x1="378.90" y1="206.60" x2="378.90" y2="195.40" stroke="#444" stroke-width="0.7"/>
<path d="M378.90,195.40 A11.20,11.20 0 0 0 367.70,206.60" fill="none" stroke="#555" stroke-width="0.6"/>
<rect x="347.00" y="206.40" width="9.20" height="2.00" fill="#000"/>
<rect x="378.90" y="206.40" width="11.90" height="2.00" fill="#000"/>
<rect x="388.60" y="206.40" width="2.20" height="16.40" fill="#000"/>
<line x1="347.00" y1="215.10" x2="388.60" y2="215.10" stroke="#999" stroke-width="0.9" stroke-dasharray="2 1"/>
<rect x="347.00" y="220.60" width="43.80" height="2.20" fill="#000"/>
<rect x="345.30" y="220.60" width="6.00" height="18.90" fill="#000"/>
<rect x="381.30" y="223.00" width="9.30" height="33.70" fill="#000"/>
<rect x="388.50" y="256.00" width="2.10" height="10.50" fill="#000"/>
<polygon points="388.50,266.00 390.60,266.00 388.00,269.00 387.00,268.50" fill="#000"/>
<rect x="352.20" y="224.00" width="26.60" height="13.00" fill="none" stroke="#666" stroke-width="0.6"/>
<rect x="354.5" y="226" width="22" height="9" rx="4" fill="none" stroke="#888" stroke-width="0.5"/>
<rect x="347.50" y="238.50" width="4.50" height="14.00" fill="none" stroke="#666" stroke-width="0.6"/>
<ellipse cx="357.8" cy="245.5" rx="5" ry="3.8" fill="none" stroke="#666" stroke-width="0.6"/>
<line x1="379.30" y1="256.70" x2="379.30" y2="240.20" stroke="#444" stroke-width="0.7"/>
<path d="M379.30,240.20 A16.50,16.50 0 0 0 362.80,256.70" fill="none" stroke="#555" stroke-width="0.6"/>
<rect x="347.00" y="255.00" width="17.80" height="1.70" fill="#000"/>
<rect x="347.00" y="256.70" width="11.60" height="28.30" fill="none" stroke="#666" stroke-width="0.6"/>
<circle cx="352.4" cy="263.6" r="3.6" fill="none" stroke="#777" stroke-width="0.6"/>
<circle cx="352.4" cy="278.2" r="3.6" fill="none" stroke="#777" stroke-width="0.6"/>
<rect x="347.00" y="285.00" width="27.50" height="2.20" fill="#000"/>
<line x1="373.80" y1="286.30" x2="379.60" y2="280.20" stroke="#000" stroke-width="2.2"/>
<line x1="388.00" y1="268.00" x2="374.58" y2="260.25" stroke="#444" stroke-width="0.7"/>
<path d="M374.58,260.25 A15.50,15.50 0 0 0 378.67,280.38" fill="none" stroke="#555" stroke-width="0.6"/>
<text x="365.80" y="274.85" font-size="4.6" text-anchor="middle" fill="#000" font-weight="bold" stroke="#000" stroke-width="0.12" textLength="10.00" lengthAdjust="spacingAndGlyphs">BATH</text>
<text x="365.80" y="280.15" font-size="4.6" text-anchor="middle" fill="#000" font-weight="bold" stroke="#000" stroke-width="0.12" textLength="3.00" lengthAdjust="spacingAndGlyphs">2</text>
<line x1="408.90" y1="222.30" x2="408.90" y2="206.90" stroke="#444" stroke-width="0.7"/>
<path d="M408.90,206.90 A15.40,15.40 0 0 0 393.50,222.30" fill="none" stroke="#555" stroke-width="0.6"/>
<rect x="390.80" y="221.50" width="3.50" height="1.70" fill="#000"/>
<rect x="408.00" y="221.50" width="7.80" height="1.70" fill="#000"/>
<rect x="347.00" y="288.40" width="11.60" height="15.50" fill="none" stroke="#666" stroke-width="0.6"/>
<text x="352.60" y="297.29" font-size="3.6" text-anchor="middle" fill="#000" font-weight="bold" stroke="#000" stroke-width="0.12" textLength="11.00" lengthAdjust="spacingAndGlyphs" transform="rotate(90 352.60 296.00)">LINEN</text>
<path d="M358.6,289 L366,294 L358.6,303" fill="none" stroke="#777" stroke-width="0.6"/>
<rect x="347.00" y="303.90" width="17.70" height="2.10" fill="#000"/>
<rect x="358.60" y="303.90" width="2.00" height="10.10" fill="#000"/>
<rect x="358.60" y="345.00" width="2.00" height="6.50" fill="#000"/>
<rect x="347.00" y="349.50" width="13.60" height="2.00" fill="#000"/>
<path d="M360.6,314.4 L371,326 L361,329 L371,333 L360.6,344" fill="none" stroke="#777" stroke-width="0.6"/>
<line x1="364.70" y1="306.00" x2="377.18" y2="317.24" stroke="#444" stroke-width="0.7"/>
<path d="M377.18,317.24 A16.80,16.80 0 0 0 381.50,306.00" fill="none" stroke="#555" stroke-width="0.6"/>
<rect x="347.20" y="432.00" width="70.60" height="2.30" fill="#000"/>
<rect x="373.40" y="431.00" width="18.10" height="6.00" fill="#fff"/>
<line x1="373.40" y1="431.50" x2="391.50" y2="431.50" stroke="#8a8a8a" stroke-width="1"/>
<line x1="373.40" y1="433.50" x2="391.50" y2="433.50" stroke="#8a8a8a" stroke-width="1"/>
<line x1="373.40" y1="436.50" x2="391.50" y2="436.50" stroke="#8a8a8a" stroke-width="1"/>
<rect x="415.00" y="413.00" width="46.80" height="3.00" fill="#000"/>
<text x="389.00" y="388.93" font-size="6.8" text-anchor="middle" fill="#111" font-weight="bold" textLength="40.00" lengthAdjust="spacingAndGlyphs">BEDROOM 3</text>
<rect x="462.00" y="397.80" width="19.50" height="2.90" fill="#000"/>
<rect x="517.80" y="398.70" width="66.00" height="2.00" fill="#000"/>
<rect x="498.00" y="398.70" width="3.50" height="65.60" fill="#000"/>
<line x1="497.00" y1="400.70" x2="497.00" y2="416.50" stroke="#444" stroke-width="0.7"/>
<path d="M497.00,416.50 A15.80,15.80 0 0 1 481.20,400.70" fill="none" stroke="#555" stroke-width="0.6"/>
<line x1="502.50" y1="400.70" x2="502.50" y2="416.50" stroke="#444" stroke-width="0.7"/>
<path d="M502.50,416.50 A15.80,15.80 0 0 0 518.30,400.70" fill="none" stroke="#555" stroke-width="0.6"/>
<text x="522.50" y="342.32" font-size="6.2" text-anchor="middle" fill="#111" font-weight="bold" textLength="20.00" lengthAdjust="spacingAndGlyphs">GAME</text>
<text x="522.50" y="348.02" font-size="6.2" text-anchor="middle" fill="#111" font-weight="bold" textLength="21.00" lengthAdjust="spacingAndGlyphs">ROOM</text>
<line x1="576.30" y1="375.80" x2="581.40" y2="375.80" stroke="#999" stroke-width="0.5"/>
<text x="586.60" y="390.13" font-size="4" text-anchor="middle" fill="#000" font-weight="bold" stroke="#000" stroke-width="0.12" textLength="17.50" lengthAdjust="spacingAndGlyphs" transform="rotate(-90 586.60 388.70)">OVER 36&quot;</text>
<text x="590.70" y="390.13" font-size="4" text-anchor="middle" fill="#000" font-weight="bold" stroke="#000" stroke-width="0.12" textLength="14.00" lengthAdjust="spacingAndGlyphs" transform="rotate(-90 590.70 388.70)">GAS WH</text>
<rect x="461.30" y="400.00" width="2.00" height="81.90" fill="#000"/>
<rect x="462.00" y="448.70" width="38.00" height="1.80" fill="#000"/>
<text x="481.50" y="424.23" font-size="5.4" text-anchor="middle" fill="#111" font-weight="bold" textLength="30.60" lengthAdjust="spacingAndGlyphs">UNFINISHED</text>
<text x="481.50" y="429.93" font-size="5.4" text-anchor="middle" fill="#111" font-weight="bold" textLength="22.80" lengthAdjust="spacingAndGlyphs">STORAGE</text>
<text x="478.90" y="472.66" font-size="5.2" text-anchor="middle" fill="#111" font-weight="bold" textLength="13.50" lengthAdjust="spacingAndGlyphs">W.I.C.</text>
<line x1="498.00" y1="463.80" x2="485.50" y2="463.80" stroke="#444" stroke-width="0.7"/>
<path d="M485.50,463.80 A12.50,12.50 0 0 0 498.00,476.30" fill="none" stroke="#555" stroke-width="0.6"/>
<rect x="462.00" y="479.80" width="119.00" height="2.10" fill="#000"/>
<rect x="503.50" y="478.00" width="35.00" height="6.00" fill="#fff"/>
<line x1="503.50" y1="478.50" x2="538.50" y2="478.50" stroke="#8a8a8a" stroke-width="1"/>
<line x1="503.50" y1="481.50" x2="538.50" y2="481.50" stroke="#8a8a8a" stroke-width="1"/>
<line x1="503.50" y1="483.50" x2="538.50" y2="483.50" stroke="#8a8a8a" stroke-width="1"/>
<line x1="520.90" y1="479.20" x2="520.90" y2="482.50" stroke="#666" stroke-width="0.6"/>
<text x="539.00" y="438.93" font-size="6.8" text-anchor="middle" fill="#111" font-weight="bold" textLength="39.40" lengthAdjust="spacingAndGlyphs">BEDROOM 2</text>
</svg></body></html>
